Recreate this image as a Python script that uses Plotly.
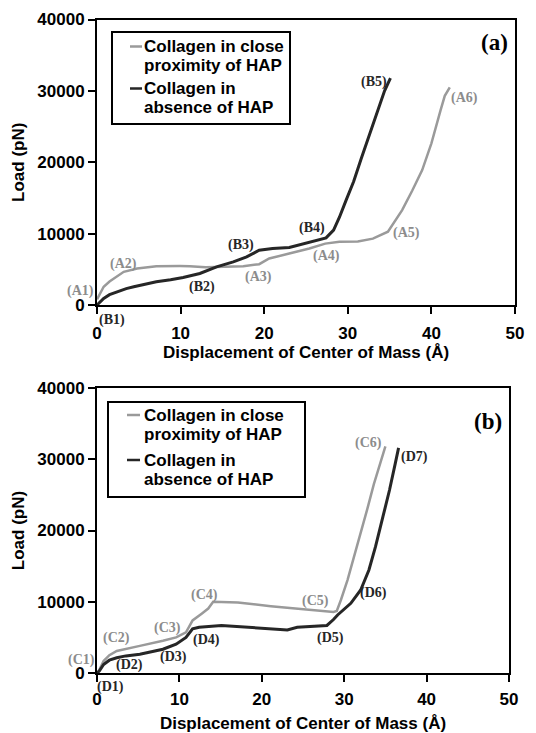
import plotly.graph_objects as go

W, H = 536, 733

# ---------------- Panel (a) ----------------
a_gray_x = [0, 0.2, 0.8, 1.5, 2.0, 3.2, 4.8, 7.1, 9.9, 11.1, 13.0, 15.1, 17.5, 19.4, 20.6,
            23.0, 25.4, 27.3, 29.0, 31.2, 33.0, 34.8, 35.4, 36.5, 37.7, 38.9, 40.0, 40.6, 41.1, 41.6, 42.2]
a_gray_y = [800, 1300, 2560, 3300, 3720, 4650, 5120, 5440, 5460, 5440, 5300, 5350, 5440, 5720, 6510,
            7210, 7910, 8600, 8870, 8900, 9300, 10270, 11300, 13300, 16000, 18900, 22650, 25000, 27300, 29300, 30500]

b_black_x = [0, 0.4, 0.8, 1.5, 2.4, 3.5, 4.4, 6.0, 7.1, 8.8, 10.3, 12.3, 14.3, 16.3, 17.9, 19.4,
             21.0, 23.0, 25.4, 27.4, 28.3, 29.0, 29.8, 30.7, 31.6, 32.6, 33.6, 34.4, 35.1]
b_black_y = [0, 400, 930, 1450, 1860, 2300, 2560, 2950, 3260, 3550, 3860, 4420, 5350, 6050, 6740, 7670,
             7910, 8050, 8840, 9400, 10500, 12300, 14700, 17300, 20500, 24000, 27300, 30000, 31800]

# ---------------- Panel (b) ----------------
c_gray_x = [0, 0.2, 0.8, 1.5, 2.4, 3.5, 5.2, 8.0, 9.6, 10.8, 11.6, 12.7, 13.5, 14.1, 17.1, 21.1,
            25.1, 28.7, 29.1, 29.6, 30.4, 31.2, 32.0, 32.8, 33.6, 34.4, 35.0]
c_gray_y = [0, 240, 1670, 2500, 3100, 3400, 3810, 4520, 5000, 5710, 7380, 8330, 9050, 10000, 9900, 9380,
            8900, 8570, 8700, 10250, 13050, 16330, 19500, 23000, 26500, 29500, 31800]

d_black_x = [0, 0.3, 0.8, 1.5, 2.4, 3.5, 5.2, 8.0, 9.6, 10.8, 11.6, 12.4, 15.1, 18.3, 21.1, 23.1,
             24.3, 27.9, 28.7, 29.2, 30.8, 32.0, 33.0, 33.8, 34.7, 35.5, 36.2, 36.6]
d_black_y = [0, 300, 1190, 1800, 2140, 2400, 2620, 3330, 4050, 5000, 6190, 6430, 6670, 6430, 6190, 6050,
             6430, 6670, 7500, 8140, 9780, 11650, 14460, 17730, 21940, 25680, 29430, 31600]

legend_gray = ["Collagen in close", "proximity of HAP"]
legend_black = ["Collagen in", "absence of HAP"]

x_ticks = [0, 10, 20, 30, 40, 50]
y_ticks = [0, 10000, 20000, 30000, 40000]

# point labels: (text, x, y, xshift, yshift, colour-key)
labels_a = [
    ("(A1)", 0, 2000, -17, 0, "g"),
    ("(A2)", 3.15, 5700, 0, 0, "g"),
    ("(A3)", 19.3, 3970, 0, 0, "g"),
    ("(A4)", 27.4, 6860, 0, 0, "g"),
    ("(A5)", 37.0, 10130, 0, 0, "g"),
    ("(A6)", 44.0, 28950, 0, 0, "g"),
    ("(B1)", 1.75, 0, 0, -15, "k"),
    ("(B2)", 12.6, 2480, 0, 0, "k"),
    ("(B3)", 17.2, 8400, 0, 0, "k"),
    ("(B4)", 25.7, 10740, 0, 0, "k"),
    ("(B5)", 33.1, 31280, 0, 0, "k"),
]
labels_b = [
    ("(C1)", 0, 1820, -16, 0, "g"),
    ("(C2)", 2.4, 4950, 0, 0, "g"),
    ("(C3)", 8.5, 6270, 0, 0, "g"),
    ("(C4)", 13.0, 10950, 0, 0, "g"),
    ("(C5)", 26.5, 10100, 0, 0, "g"),
    ("(C6)", 33.0, 32240, 0, 0, "g"),
    ("(D1)", 1.6, 0, 0, -14, "k"),
    ("(D2)", 3.9, 1120, 0, 0, "k"),
    ("(D3)", 9.3, 2200, 0, 0, "k"),
    ("(D4)", 13.3, 4630, 0, 0, "k"),
    ("(D5)", 28.3, 4870, 0, 0, "k"),
    ("(D6)", 33.6, 11190, 0, 0, "k"),
    ("(D7)", 38.5, 30360, 0, 0, "k"),
]

GRAY = "#9a9a9a"
BLACK = "#262626"
LABEL_GRAY = "#8c8c8c"
SANS = "Liberation Sans, Arial, sans-serif"
SERIF = "Liberation Serif, Times New Roman, serif"

fig = go.Figure()
fig.add_trace(go.Scatter(x=a_gray_x, y=a_gray_y, mode="lines", name=" ".join(legend_gray),
                         line=dict(color=GRAY, width=2.5), xaxis="x", yaxis="y"))
fig.add_trace(go.Scatter(x=b_black_x, y=b_black_y, mode="lines", name=" ".join(legend_black),
                         line=dict(color=BLACK, width=3), xaxis="x", yaxis="y"))
fig.add_trace(go.Scatter(x=c_gray_x, y=c_gray_y, mode="lines", name=" ".join(legend_gray),
                         line=dict(color=GRAY, width=2.5), xaxis="x2", yaxis="y2"))
fig.add_trace(go.Scatter(x=d_black_x, y=d_black_y, mode="lines", name=" ".join(legend_black),
                         line=dict(color=BLACK, width=3), xaxis="x2", yaxis="y2"))

def xax(domain, anchor, lab_standoff, title_standoff):
    return dict(domain=domain, anchor=anchor, range=[0, 50], tickvals=x_ticks,
                showline=True, linecolor="black", linewidth=2, mirror=True,
                ticks="outside", ticklen=7, tickwidth=2, tickcolor="black",
                ticklabelstandoff=lab_standoff,
                showgrid=False, zeroline=False, automargin=False,
                tickfont=dict(family=SANS, size=17, color="black", weight="bold"),
                title=dict(text="Displacement of Center of Mass (Å)", standoff=title_standoff,
                           font=dict(family=SANS, size=17, color="black", weight="bold")))

def yax(domain, anchor):
    return dict(domain=domain, anchor=anchor, range=[0, 40000], tickvals=y_ticks,
                tickformat="d",
                showline=True, linecolor="black", linewidth=2, mirror=True,
                ticks="outside", ticklen=7, tickwidth=2, tickcolor="black",
                showgrid=False, zeroline=False, automargin=False,
                tickfont=dict(family=SANS, size=17, color="black", weight="bold"),
                title=dict(text="Load (pN)", standoff=8,
                           font=dict(family=SANS, size=17, color="black", weight="bold")))

fig.update_layout(
    width=W, height=H,
    margin=dict(l=0, r=0, t=0, b=0),
    paper_bgcolor="white", plot_bgcolor="white",
    font=dict(family=SANS, size=17, color="black", weight="bold"),
    xaxis=xax([97 / W, 515 / W], "y", 5, 3),
    yaxis=yax([1 - 305 / H, 1 - 19.5 / H], "x"),
    xaxis2=xax([97 / W, 509 / W], "y2", 3, 13),
    yaxis2=yax([1 - 673 / H, 1 - 388 / H], "x2"),
    showlegend=False,
)

# ---- legends drawn as boxes with sample lines and text ----
shapes = []
anns = []

def legend_box(x0, x1, y0, y1, line_x0, line_x1, text_x, rows):
    shapes.append(dict(type="rect", xref="paper", yref="paper",
                       x0=x0 / W, x1=x1 / W, y0=1 - y1 / H, y1=1 - y0 / H,
                       line=dict(color="black", width=2), fillcolor="white", layer="above"))
    for lines, color, ys in rows:
        shapes.append(dict(type="line", xref="paper", yref="paper",
                           x0=line_x0 / W, x1=line_x1 / W, y0=1 - ys[0] / H, y1=1 - ys[0] / H,
                           line=dict(color=color, width=2.5)))
        for txt, yy in zip(lines, ys):
            anns.append(dict(text=txt, xref="paper", yref="paper", x=text_x / W, y=1 - yy / H,
                             xanchor="left", yanchor="middle", showarrow=False,
                             font=dict(family=SANS, size=17, color="black", weight="bold")))

legend_box(112, 290, 32, 124, 130, 142, 142,
           [(legend_gray, GRAY, (46.5, 65.5)), (legend_black, BLACK, (88.5, 107.5))])
legend_box(108, 305, 402, 497, 127, 140, 142,
           [(legend_gray, GRAY, (415, 434)), (legend_black, BLACK, (460, 479))])

for lab, refs in ((labels_a, ("x", "y")), (labels_b, ("x2", "y2"))):
    for text, x, y, xs, ys, c in lab:
        anns.append(dict(text=text, x=x, y=y, xref=refs[0], yref=refs[1], xshift=xs, yshift=ys,
                         showarrow=False,
                         font=dict(family=SERIF, size=14, weight="bold",
                                   color=LABEL_GRAY if c == "g" else BLACK)))
anns.append(dict(text="(a)", x=47.6, y=36800, xref="x", yref="y", showarrow=False,
                 font=dict(family=SERIF, size=23, weight="bold", color="black")))
anns.append(dict(text="(b)", x=47.4, y=35270, xref="x2", yref="y2", showarrow=False,
                 font=dict(family=SERIF, size=23, weight="bold", color="black")))
fig.update_layout(shapes=shapes, annotations=anns)

fig.write_html("out.html", config={"displayModeBar": False},
               post_script="document.body.style.margin='0px';document.body.style.overflow='hidden';")
